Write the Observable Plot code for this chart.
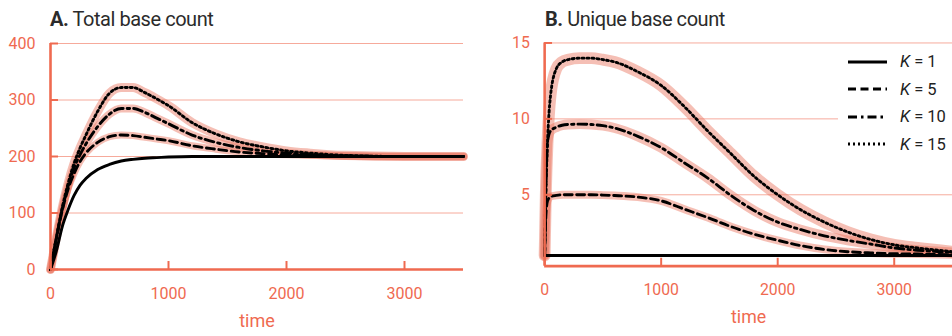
<!DOCTYPE html>
<html><head><meta charset="utf-8">
<script src="https://cdn.jsdelivr.net/npm/d3@7"></script>
<script src="https://cdn.jsdelivr.net/npm/@observablehq/plot@0.6"></script>
<style>
html,body{margin:0;padding:0;background:#fff;overflow:hidden;}
#wrap{position:relative;width:952px;height:336px;overflow:hidden;font-family:Roboto,sans-serif;}
.panel{position:absolute;top:0;}
.title{position:absolute;top:7px;font-size:20px;color:#2b2b2b;letter-spacing:-0.45px;white-space:nowrap;}
.title b{font-weight:700;}
.legend{position:absolute;left:838px;top:48px;width:114px;height:110px;background:#fff;}
.row{position:absolute;left:0;height:20px;display:flex;align-items:center;}
.row svg{margin-left:10px;}
.row span{position:absolute;left:62px;font-size:16.5px;color:#222;white-space:nowrap;}
</style></head>
<body>
<div id="wrap">
  <div class="panel" id="pA" style="left:0"></div>
  <div class="panel" id="pB" style="left:476px"></div>
  <div class="title" style="left:50px"><b>A.</b> Total base count</div>
  <div class="title" style="left:545px"><b>B.</b> Unique base count</div>
  <div class="legend" id="legend"></div>
</div>
<script>
// ---- data ----
const kValues = [1, 5, 10, 15];
const legendLabels = ["K = 1", "K = 5", "K = 10", "K = 15"];

const timesA = [0, 50, 100, 150, 200, 250, 300, 400, 500, 600, 700, 800, 900, 1000, 1200, 1400, 1600, 1800, 2000, 2200, 2500, 3000, 3500];
const totalK1  = [0, 33, 76, 106, 131, 149, 161, 177, 186, 192, 195, 197, 198, 199, 200, 200, 200, 200, 200, 200, 200, 200, 200];
const totalK5  = [0, 55, 105, 143, 170, 191, 206, 225, 235, 238, 237, 234, 231, 228, 219, 213, 208, 205, 203, 202, 201, 200, 200];
const totalK10 = [0, 56, 107, 148, 180, 203, 222, 253, 275, 285, 285, 278, 268, 258, 238, 225, 216, 210, 206, 203, 201, 200, 200];
const totalK15 = [0, 57, 110, 153, 188, 215, 238, 280, 312, 322, 322, 313, 302, 290, 260, 240, 226, 217, 210, 206, 202, 200, 200];

const timesB = [0, 10, 25, 50, 100, 150, 200, 300, 400, 500, 600, 800, 1000, 1200, 1400, 1600, 1800, 2000, 2200, 2400, 2600, 2800, 3000, 3200, 3500];
const uniqueK1  = [1, 1, 1, 1, 1, 1, 1, 1, 1, 1, 1, 1, 1, 1, 1, 1, 1, 1, 1, 1, 1, 1, 1, 1, 1];
const uniqueK5  = [1, 3.5, 4.6, 4.88, 4.96, 5.0, 5.0, 5.0, 5.0, 4.98, 4.95, 4.85, 4.6, 4.05, 3.5, 2.9, 2.4, 2.0, 1.65, 1.4, 1.25, 1.17, 1.12, 1.1, 1.05];
const uniqueK10 = [1, 5, 8.5, 9.2, 9.45, 9.58, 9.63, 9.65, 9.63, 9.55, 9.4, 8.85, 8.1, 7.1, 6.1, 4.95, 3.95, 3.2, 2.7, 2.3, 2.0, 1.75, 1.5, 1.35, 1.2];
const uniqueK15 = [1, 5, 8.5, 11.5, 13.3, 13.75, 13.9, 14.0, 14.0, 13.9, 13.75, 13.1, 12.2, 10.8, 9.2, 7.7, 6.2, 5.0, 4.0, 3.2, 2.55, 2.05, 1.7, 1.5, 1.25];

const xTicks = [0, 1000, 2000, 3000];
const yTicksA = [0, 100, 200, 300, 400];
const yTicksB = [5, 10, 15];
const xLabel = "time";

// ---- styles ----
const coral = "#ef6a50";
const gridColor = "#f6aa9b";
const bandColor = "#e8725c";
const dashes = {1: null, 5: "8,4.5", 10: "9,4,2.5,4", 15: "2,3"};
const bandWidthA = {5: 7, 10: 8, 15: 9};
const bandWidthB = {5: 8, 10: 10, 15: 12};
const fmt = d => String(d);

function toRows(times, vals, K) { return times.map((t, i) => ({time: t, value: vals[i], K})); }
const dataA = [toRows(timesA, totalK1, 1), toRows(timesA, totalK5, 5), toRows(timesA, totalK10, 10), toRows(timesA, totalK15, 15)];
const dataB = [toRows(timesB, uniqueK1, 1), toRows(timesB, uniqueK5, 5), toRows(timesB, uniqueK10, 10), toRows(timesB, uniqueK15, 15)];

function panel(data, yDomain, yTicks, opts, bandW) {
  const marks = [
    Plot.gridY(yTicks, {stroke: gridColor, strokeOpacity: 1, strokeWidth: 1})
  ];
  data.forEach(d => {
    if (d[0].K !== 1) marks.push(Plot.line(d, {x: "time", y: "value", stroke: bandColor, strokeOpacity: 0.45, strokeWidth: bandW[d[0].K], curve: "monotone-x"}));
  });
  data.forEach(d => {
    const o = {x: "time", y: "value", stroke: "#000", strokeWidth: 2.9, curve: "monotone-x"};
    if (dashes[d[0].K]) o.strokeDasharray = dashes[d[0].K];
    marks.push(Plot.line(d, o));
  });
  marks.push(
    Plot.axisY(yTicks, {tickSize: 0, tickPadding: 15, fontSize: 16, tickFormat: fmt, label: null}),
    Plot.axisY(yTicks, {tickSize: -8, tickFormat: () => "", strokeWidth: 2, label: null}),
    Plot.axisX(xTicks, {tickSize: 0, tickPadding: 18, fontSize: 16, tickFormat: fmt, label: null}),
    Plot.axisX(xTicks, {tickSize: -8, tickFormat: () => "", strokeWidth: 2, label: null}),
    Plot.ruleX([0], {stroke: coral, strokeWidth: 2.6}),
    Plot.ruleY([yDomain[0]], {stroke: coral, strokeWidth: 2.6}),
    Plot.text([xLabel], {frameAnchor: "bottom", lineAnchor: "middle", dy: 52, fill: coral, fontSize: 18})
  );
  return Plot.plot({
    ...opts,
    height: 336,
    marginTop: 43,
    marginBottom: 67,
    x: {domain: [0, 3500]},
    y: {domain: yDomain},
    style: {fontFamily: "Roboto, sans-serif", fontSize: "16px", color: coral, background: "transparent", overflow: "visible"},
    marks
  });
}

document.getElementById("pA").appendChild(panel(dataA, [0, 400], yTicksA, {width: 476, marginLeft: 50, marginRight: 13}, bandWidthA));
document.getElementById("pB").appendChild(panel(dataB, [0.3, 15], yTicksB, {width: 482, marginLeft: 69, marginRight: 0}, bandWidthB));

// legend
const legend = document.getElementById("legend");
const rowCenters = [13.5, 41, 68.5, 96];
kValues.forEach((K, i) => {
  const row = document.createElement("div");
  row.className = "row";
  row.style.top = (rowCenters[i] - 10) + "px";
  const dash = dashes[K] ? ` stroke-dasharray="${dashes[K]}"` : "";
  const lab = legendLabels[i].replace("K", "<i>K</i>");
  row.innerHTML = `<svg width="39" height="6"><line x1="0" x2="39" y1="3" y2="3" stroke="#000" stroke-width="2.9"${dash}/></svg><span>${lab}</span>`;
  legend.appendChild(row);
});
</script>
</body></html>
